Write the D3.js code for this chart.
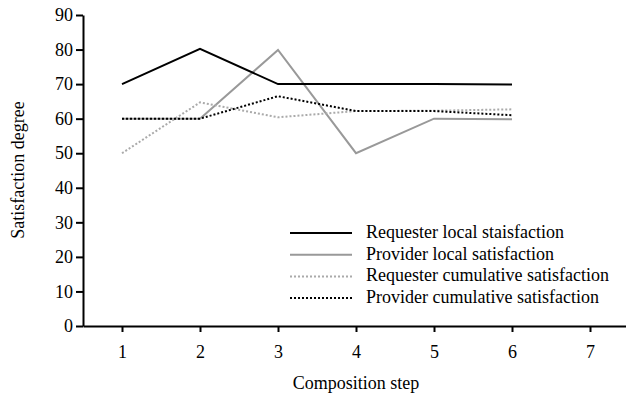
<!DOCTYPE html>
<html><head><meta charset="utf-8">
<script src="https://cdn.jsdelivr.net/npm/d3@7"></script>
<style>body{margin:0;background:#fff}</style>
</head><body>
<svg id="c" width="626" height="398"></svg>
<script>
const steps = [1,2,3,4,5,6];
const xTicks = [1,2,3,4,5,6,7];
const yTicks = [0,10,20,30,40,50,60,70,80,90];
const requesterLocal = [70,80.2,70,70,70,69.9];
const providerLocal = [60,60,79.9,50,60,59.8];
const requesterCum = [50,64.7,60.4,62.2,62.3,62.7];
const providerCum = [60,60,66.5,62.2,62.2,61];
const seriesNames = ["Requester local staisfaction","Provider local satisfaction","Requester cumulative satisfaction","Provider cumulative satisfaction"];

const series = [
  {name:seriesNames[0], values:requesterLocal, color:"#000", dash:null},
  {name:seriesNames[1], values:providerLocal, color:"#999", dash:null},
  {name:seriesNames[2], values:requesterCum, color:"#aaa", dash:"2,2"},
  {name:seriesNames[3], values:providerCum, color:"#000", dash:"2,2"}
];

const FONT = "'Times New Roman', 'Liberation Serif', serif";
function serif(sel, size){
  sel.each(function(){
    this.style.setProperty("font-family", FONT, "important");
    this.style.setProperty("font-size", size + "px", "important");
  });
  return sel;
}
const svg = d3.select("#c");
const x = d3.scaleLinear().domain([0.5,7.5]).range([83,629]);
const y = d3.scaleLinear().domain([0,90]).range([326,15]);

const draw = [series[1], series[2], series[3], series[0]];
const line = d3.line().x((d,i)=>x(steps[i])).y(d=>y(d));
draw.forEach(s=>{
  svg.append("path").attr("d", line(s.values)).attr("fill","none")
    .attr("stroke", s.color).attr("stroke-width", 2)
    .attr("stroke-dasharray", s.dash);
});

const gx = svg.append("g").attr("transform","translate(0,326)")
  .call(d3.axisBottom(x).tickValues(xTicks).tickFormat(d3.format("d")).tickSize(7).tickSizeOuter(0).tickPadding(12));
const gy = svg.append("g").attr("transform","translate(83,0)")
  .call(d3.axisLeft(y).tickValues(yTicks).tickFormat(d3.format("d")).tickSize(7).tickSizeOuter(0).tickPadding(3));
[gx,gy].forEach(g=>{
  g.attr("font-family", null).attr("font-size", null);
  g.select(".domain").attr("stroke","#000").attr("stroke-width",2);
  g.selectAll(".tick line").attr("stroke","#000").attr("stroke-width",2);
  serif(g.selectAll(".tick text"), 18).attr("fill","#000");
});
gx.selectAll(".tick line").attr("y2", 6);

serif(svg.append("text").attr("x",356).attr("y",389).attr("text-anchor","middle"), 18)
  .text("Composition step");
serif(svg.append("text").attr("transform","translate(24,170) rotate(-90)").attr("text-anchor","middle"), 18)
  .text("Satisfaction degree");

const lg = svg.append("g");
series.forEach((s,i)=>{
  const yy = 233 + i*21.7;
  lg.append("line").attr("x1",290).attr("x2",352).attr("y1",yy).attr("y2",yy)
    .attr("stroke",s.color).attr("stroke-width",2).attr("stroke-dasharray",s.dash);
  serif(lg.append("text").attr("x",366).attr("y",yy+5), 18).text(s.name);
});
</script>
</body></html>
